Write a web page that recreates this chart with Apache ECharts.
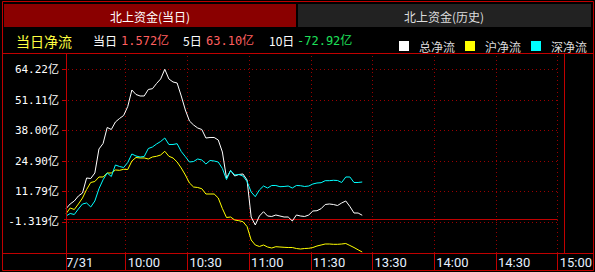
<!DOCTYPE html>
<html><head><meta charset="utf-8">
<script src="https://cdn.jsdelivr.net/npm/echarts@6/dist/echarts.min.js"></script>
<style>html,body{margin:0;padding:0;background:#000;}#c{width:595px;height:272px;}</style>
</head><body><div id="c"></div>
<script>
// ---- data (minutes after 9:30, lunch break removed) ----
const minutes = [1,3,5,7,9,11,13,15,17,19,21,23,25,27,29,31,33,35,37,39,41,43,45,47,49,51,53,55,57,59,61,63,65,67,69,71,73,75,77,79,81,83,85,87,89,91,93,95,97,99,101,103,105,107,109,111,113,115,117,119,121,123,125,127,129,131,133,135,137,139,141,143,145];
const totalFlow = [4.41,6.43,7.72,9.87,11.16,17.62,17.40,19.77,30.10,32.47,39.35,38.49,41.72,43.23,44.52,48.39,55.49,53.56,52.91,52.91,55.71,56.05,58.29,60.23,64.40,60.23,58.94,58.51,52.91,46.88,42.15,40.43,39.14,38.49,34.83,35.05,35.05,33.97,28.81,17.62,20.85,18.48,19.12,19.34,16.76,0.83,-2.61,1.26,3.11,1.26,1.05,1.69,1.26,0.83,0.83,-0.89,1.69,1.26,1.05,1.69,3.41,3.54,4.41,6.21,6.43,6.21,5.78,6.86,7.72,5.35,2.55,2.55,1.57];
const shFlow = [2.25,4.71,4.06,6.43,9.01,12.67,15.68,16.11,18.05,18.05,19.77,19.77,21.06,20.93,21.36,21.28,24.93,26.44,26.23,26.23,25.80,26.66,26.96,27.52,29.11,26.96,26.23,24.50,21.92,18.91,15.47,13.74,13.53,13.01,10.73,10.73,10.73,9.01,4.49,0.62,0.83,-0.46,-0.76,-1.19,-3.26,-9.07,-11.22,-11.86,-11.22,-12.08,-12.51,-11.95,-12.08,-12.21,-12.30,-12.30,-12.73,-12.94,-12.73,-12.64,-12.30,-11.65,-11.22,-10.79,-10.79,-10.92,-10.92,-10.79,-10.57,-11.43,-12.30,-13.29,-14.23];
const szFlow = [1.26,2.34,1.91,4.28,6.43,6.86,5.14,7.72,13.01,16.89,19.77,18.26,23.21,22.57,22.14,24.29,27.95,27.09,26.66,26.87,30.31,30.96,32.25,33.33,34.83,32.04,32.04,32.38,29.02,26.79,24.50,24.72,25.80,25.36,23.64,25.15,24.93,24.50,21.71,16.97,20.85,18.91,19.12,18.48,16.11,11.59,9.57,12.45,14.17,13.31,14.39,14.39,13.87,13.96,14.17,13.31,14.39,14.30,13.96,14.17,15.04,15.47,15.59,16.46,16.46,16.63,16.54,15.68,18.05,18.05,15.68,15.68,15.90];

const seriesNames = ['总净流','沪净流','深净流'];
const yTickValues = [-1.319, 11.79, 24.90, 38.00, 51.11, 64.22];
const yTickLabels = ['-1.319亿','11.79亿','24.90亿','38.00亿','51.11亿','64.22亿'];
const xTickMinutes = [0,30,60,90,120,150,180,210,240];
const xTickLabels = ['7/31','10:00','10:30','11:00','11:30','13:30','14:00','14:30','15:00'];
const tabTitles = ['北上资金(当日)','北上资金(历史)'];
const headerTitle = '当日净流';
const summaryLabels = ['当日','5日','10日'];
const summaryValues = ['1.572亿','63.10亿','-72.92亿'];

// ---- styles / layout ----
const RED = '#c00000';
const GRIDRED = '#9a0000';
const CJK = "'Noto Sans CJK SC'";
const MONO = "'DejaVu Sans Mono','Noto Sans CJK SC'";
const seriesColors = ['#ffffff','#ffff00','#00ffff'];
const seriesData = [totalFlow, shFlow, szFlow];

const summaryLabelX = [93, 183, 269];
const summaryValueX = [121, 206, 297];
const summaryValueColors = ['#ff5f5f','#ff5f5f','#1ee05a'];

function ln(x1,y1,x2,y2){return {type:'line',silent:true,z:50,shape:{x1,y1,x2,y2},style:{stroke:RED,lineWidth:1}};}

const graphic = [
  {type:'rect',silent:true,z:1,shape:{x:4,y:4,width:292,height:23},style:{fill:'#8a0000'}},
  {type:'rect',silent:true,z:1,shape:{x:298,y:4,width:293,height:23},style:{fill:'#222222'}},
  {type:'text',silent:true,z:5,x:150,y:16,style:{text:tabTitles[0],fill:'#ffffff',font:'12px '+CJK,align:'center',verticalAlign:'middle'}},
  {type:'text',silent:true,z:5,x:444,y:16,style:{text:tabTitles[1],fill:'#dddddd',font:'12px '+CJK,align:'center',verticalAlign:'middle'}},
  {type:'text',silent:true,z:5,x:16,y:40.5,style:{text:headerTitle,fill:'#ffff40',font:'14px '+CJK,align:'left',verticalAlign:'middle'}},
  {type:'rect',silent:true,z:50,shape:{x:2.5,y:1.5,width:591,height:269},style:{fill:null,stroke:RED,lineWidth:1}},
  ln(3,53.5,593,53.5),
  ln(3,253.5,593,253.5),
  ln(66.5,53,66.5,270),
  ln(564.5,53,564.5,253)
];
summaryLabels.forEach((t,i)=>{
  graphic.push({type:'text',silent:true,z:5,x:summaryLabelX[i],y:40.5,style:{text:t,fill:'#ffffff',font:'12px '+CJK,align:'left',verticalAlign:'middle'}});
  graphic.push({type:'text',silent:true,z:5,x:summaryValueX[i],y:40.5,style:{text:summaryValues[i],fill:summaryValueColors[i],font:'12px '+MONO,align:'left',verticalAlign:'middle'}});
});

function nearestIdx(arr, v){let b=0;for(let i=1;i<arr.length;i++){if(Math.abs(arr[i]-v)<Math.abs(arr[b]-v))b=i;}return b;}

const gridDot = {color:GRIDRED, type:[1,3], width:1};
const markLineData = [{yAxis:0, lineStyle:{color:RED, type:'solid', width:1}}]
  .concat(xTickMinutes.slice(1).map(m=>({xAxis:m, lineStyle:gridDot})));

const chart = echarts.init(document.getElementById('c'), null, {renderer:'svg'});
chart.setOption({
  animation:false,
  backgroundColor:'#000000',
  graphic: graphic,
  legend:{
    data:seriesNames, left:394, top:35, icon:'rect', itemWidth:10, itemHeight:10, itemGap:10,
    selectedMode:false,
    textStyle:{color:'#dcdcdc', fontSize:12, fontFamily:CJK, padding:[0,0,0,5]}
  },
  grid:{left:64, top:53, width:498, height:200, containLabel:false},
  xAxis:{
    type:'value', min:0, max:240, position:'bottom',
    axisLine:{show:false, onZero:false},
    axisTick:{show:true, length:17, customValues:xTickMinutes.slice(1), lineStyle:{color:RED}},
    axisLabel:{customValues:xTickMinutes, formatter:(v)=>xTickLabels[nearestIdx(xTickMinutes,v)],
      color:'#e6f0ff', fontSize:13, fontFamily:'Roboto', align:'left', margin:3, padding:[0,0,0,2]},
    splitLine:{show:false}
  },
  yAxis:{
    type:'value', min:-14.66, max:71.41, offset:-2,
    axisLine:{show:false, onZero:false},
    axisTick:{show:true, length:4, customValues:yTickValues, lineStyle:{color:RED}},
    axisLabel:{customValues:yTickValues, formatter:(v)=>yTickLabels[nearestIdx(yTickValues,v)],
      color:'#ffffff', fontSize:11, fontFamily:MONO, margin:7},
    splitLine:{show:true, lineStyle:gridDot}
  },
  series: seriesNames.map((name,i)=>({
    name:name, type:'line', showSymbol:false, symbol:'none', smooth:false,
    data: minutes.map((m,k)=>[m, seriesData[i][k]]),
    lineStyle:{color:seriesColors[i], width:1},
    itemStyle:{color:seriesColors[i]},
    z: 3+i,
    markLine: i===0 ? {silent:true, symbol:'none', label:{show:false}, animation:false, z:1,
      data: markLineData} : undefined
  }))
});
</script></body></html>
